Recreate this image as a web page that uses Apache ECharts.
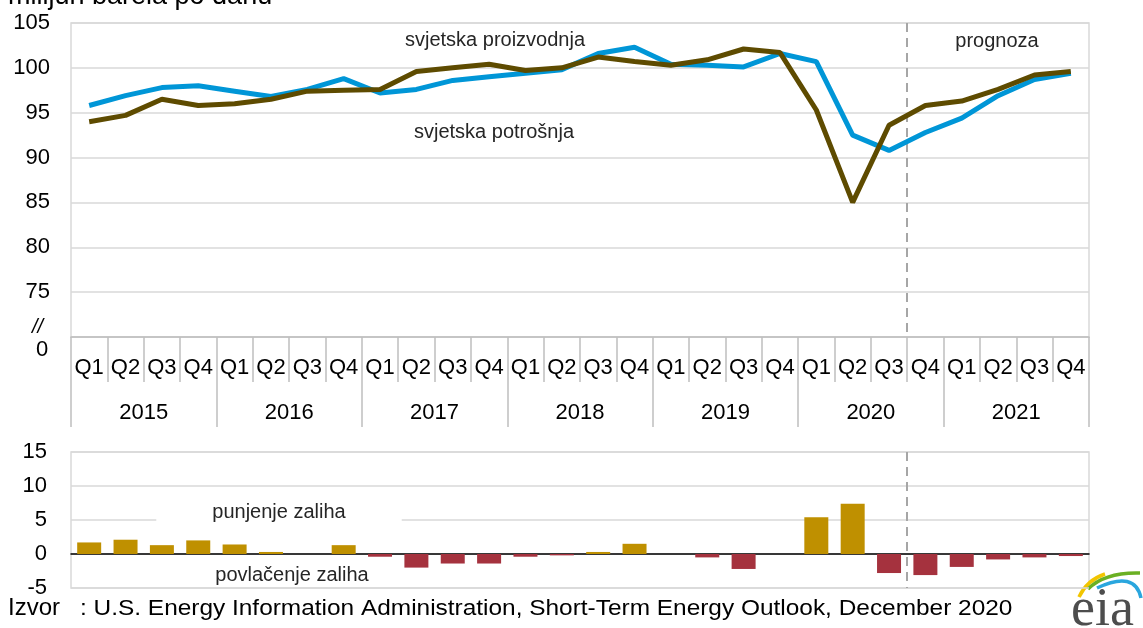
<!DOCTYPE html>
<html>
<head>
<meta charset="utf-8">
<script src="https://cdn.jsdelivr.net/npm/echarts@6/dist/echarts.min.js"></script>
<style>
  html, body { margin: 0; padding: 0; background: #fff; }
  #chart { width: 1143px; height: 628px; }
</style>
</head>
<body>
<div id="chart"></div>
<script>
// ── data (Dec 2020) ──
var years = ['2015', '2016', '2017', '2018', '2019', '2020', '2021'];
var quarterNames = ['Q1', 'Q2', 'Q3', 'Q4'];
// world production, million barrels per day
var production = [95.8, 96.9, 97.8, 98.0, 97.4, 96.8, 97.6, 98.8,
  97.2, 97.6, 98.6, 99.0, 99.4, 99.8, 101.6, 102.3,
  100.4, 100.3, 100.1, 101.6, 100.7, 92.5, 90.8, 92.8,
  94.4, 96.9, 98.7, 99.4];
// world consumption
var consumption = [94.0, 94.7, 96.5, 95.8, 96.0, 96.5, 97.4, 97.5,
  97.6, 99.6, 100.0, 100.4, 99.7, 100.0, 101.2, 100.7,
  100.3, 100.9, 102.1, 101.7, 95.3, 85.0, 93.6, 95.8,
  96.3, 97.6, 99.2, 99.6];
// implied stock change
var stockChange = [1.7, 2.1, 1.3, 2.0, 1.4, 0.3, 0, 1.3,
  -0.4, -2.0, -1.4, -1.4, -0.4, -0.2, 0.3, 1.5,
  0, -0.5, -2.2, 0, 5.4, 7.4, -2.8, -3.1,
  -1.9, -0.8, -0.5, -0.3];
var topTicks = [70, 105, 5];
var bottomTicks = [-5, 15, 5];
var forecastStart = 23; // index of 2020 Q4

var quarterKeys = [];
years.forEach(function (y) {
  quarterNames.forEach(function (q) { quarterKeys.push(y + '-' + q); });
});

var FONT = '"Liberation Sans", Arial, sans-serif';
var GRID_C = '#d9d9d9';
var TICK_C = '#bfbfbf';

var chart = echarts.init(document.getElementById('chart'), null, { renderer: 'canvas' });

var option = {
  animation: false,
  textStyle: { fontFamily: FONT },
  grid: [
    { left: 71, right: 54, top: 23, height: 314, show: true, borderColor: GRID_C, borderWidth: 1.5 },
    { left: 71, right: 54, top: 452, height: 136, show: true, borderColor: GRID_C, borderWidth: 1.5 }
  ],
  xAxis: [
    {
      type: 'category', gridIndex: 0, data: quarterKeys, position: 'bottom', offset: 0,
      axisLine: { lineStyle: { color: TICK_C, width: 1.5 } },
      axisTick: { show: true, interval: 0, length: 45, lineStyle: { color: TICK_C, width: 1.5 } },
      axisLabel: {
        interval: 0, margin: 20, fontSize: 22, color: '#000', fontFamily: FONT,
        formatter: function (v) { return v.slice(5); }
      },
      splitLine: { show: false }
    },
    {
      type: 'category', gridIndex: 0, data: years, position: 'bottom', offset: 0,
      axisLine: { show: false },
      axisTick: { show: true, interval: 0, length: 90, lineStyle: { color: TICK_C, width: 1.5 } },
      axisLabel: { interval: 0, margin: 65, fontSize: 22, color: '#000', fontFamily: FONT },
      splitLine: { show: false }
    },
    {
      type: 'category', gridIndex: 1, data: quarterKeys,
      axisLine: { onZero: true, lineStyle: { color: '#000', width: 1.5 } },
      axisTick: { show: false },
      axisLabel: { show: false },
      splitLine: { show: false }
    }
  ],
  yAxis: [
    {
      type: 'value', gridIndex: 0, min: topTicks[0], max: topTicks[1], interval: topTicks[2],
      axisLine: { show: false }, axisTick: { show: false },
      axisLabel: {
        margin: 21, fontSize: 22, color: '#000', fontFamily: FONT,
        formatter: function (v) { return v === topTicks[0] ? '' : String(v); }
      },
      splitLine: { lineStyle: { color: GRID_C, width: 1.5 } }
    },
    {
      type: 'value', gridIndex: 1, min: bottomTicks[0], max: bottomTicks[1], interval: bottomTicks[2],
      axisLine: { show: false }, axisTick: { show: false },
      axisLabel: { margin: 24, fontSize: 22, color: '#000', fontFamily: FONT },
      splitLine: { lineStyle: { color: GRID_C, width: 1.5 } }
    }
  ],
  series: [
    {
      name: 'svjetska proizvodnja', type: 'line', xAxisIndex: 0, yAxisIndex: 0,
      data: production, showSymbol: false, symbol: 'none',
      lineStyle: { color: '#0096d7', width: 5 }, z: 3
    },
    {
      name: 'svjetska potrošnja', type: 'line', xAxisIndex: 0, yAxisIndex: 0,
      data: consumption, showSymbol: false, symbol: 'none',
      lineStyle: { color: '#5e4b00', width: 5 }, z: 4
    },
    {
      name: 'promjena zaliha', type: 'bar', xAxisIndex: 2, yAxisIndex: 1,
      data: stockChange, barWidth: '66%',
      itemStyle: {
        color: function (p) { return p.value >= 0 ? '#bf9000' : '#a5323e'; }
      }
    }
  ],
  graphic: [
    { type: 'text', left: 8, top: -17, style: { text: 'milijun barela po danu', font: '27px ' + FONT, fill: '#000' } },
    { type: 'text', left: 32, top: 317, style: { text: '//', font: 'italic 20px ' + FONT, fill: '#000' } },
    { type: 'text', left: 36, top: 339, style: { text: '0', font: '22px ' + FONT, fill: '#000' } },

    { type: 'text', x: 495, y: 40, style: { text: 'svjetska proizvodnja', font: '20px ' + FONT, fill: '#262626', align: 'center', verticalAlign: 'middle' }, z: 10 },
    { type: 'text', x: 494, y: 132, style: { text: 'svjetska potrošnja', font: '20px ' + FONT, fill: '#262626', align: 'center', verticalAlign: 'middle' }, z: 10 },
    { type: 'text', x: 997, y: 41, style: { text: 'prognoza', font: '20px ' + FONT, fill: '#262626', align: 'center', verticalAlign: 'middle' }, z: 10 },
    { type: 'text', x: 279, y: 512, style: { text: 'punjenje zaliha', font: '20px ' + FONT, fill: '#262626', align: 'center', verticalAlign: 'middle', backgroundColor: '#fff', padding: [2, 56] }, z: 10 },
    { type: 'text', x: 292, y: 575, style: { text: 'povlačenje zaliha', font: '20px ' + FONT, fill: '#262626', align: 'center', verticalAlign: 'middle' }, z: 10 },

    { type: 'text', x: 8, y: 596, style: { text: 'Izvor', font: '24px ' + FONT, fill: '#000' } },
    { type: 'text', x: 80, y: 598, scaleX: 1.11, style: { text: ': U.S. Energy Information Administration, Short-Term Energy Outlook, December 2020', font: '22px ' + FONT, fill: '#000' } },

    // eia logo
    { type: 'bezierCurve', shape: { x1: 1079, y1: 597, cpx1: 1087, cpy1: 580, x2: 1105, y2: 574 }, style: { stroke: '#f2c500', lineWidth: 3.5, fill: null } },
    { type: 'bezierCurve', shape: { x1: 1088, y1: 589, cpx1: 1105, cpy1: 572, x2: 1140, y2: 573 }, style: { stroke: '#6ab023', lineWidth: 3.5, fill: null } },
    { type: 'bezierCurve', shape: { x1: 1097, y1: 588, cpx1: 1135, cpy1: 570, x2: 1141, y2: 598 }, style: { stroke: '#2aa6de', lineWidth: 3.5, fill: null } },
    { type: 'text', x: 1071, y: 638, style: { text: 'eia', font: '54px "Liberation Serif", "DejaVu Serif", serif', fill: '#4d4d4d', verticalAlign: 'bottom' } }
  ]
};

chart.setOption(option);

// forecast divider on the boundary between 2020 Q3 and 2020 Q4
var xa = chart.convertToPixel({ xAxisIndex: 0 }, forecastStart - 1);
var xb = chart.convertToPixel({ xAxisIndex: 0 }, forecastStart);
var xDiv = Math.round((xa + xb) / 2);
var yTop0 = chart.convertToPixel({ yAxisIndex: 0 }, topTicks[1]);
var yBot0 = chart.convertToPixel({ yAxisIndex: 0 }, topTicks[0]);
var yTop1 = chart.convertToPixel({ yAxisIndex: 1 }, bottomTicks[1]);
var yBot1 = chart.convertToPixel({ yAxisIndex: 1 }, bottomTicks[0]);
var dashStyle = { stroke: '#a6a6a6', lineWidth: 2, lineDash: [9, 6] };
option.graphic.push(
  { type: 'line', shape: { x1: xDiv, y1: yTop0, x2: xDiv, y2: yBot0 }, style: dashStyle, z: 2 },
  { type: 'line', shape: { x1: xDiv, y1: yTop1, x2: xDiv, y2: yBot1 }, style: dashStyle, z: 2 }
);
chart.setOption({ graphic: option.graphic });
</script>
</body>
</html>
